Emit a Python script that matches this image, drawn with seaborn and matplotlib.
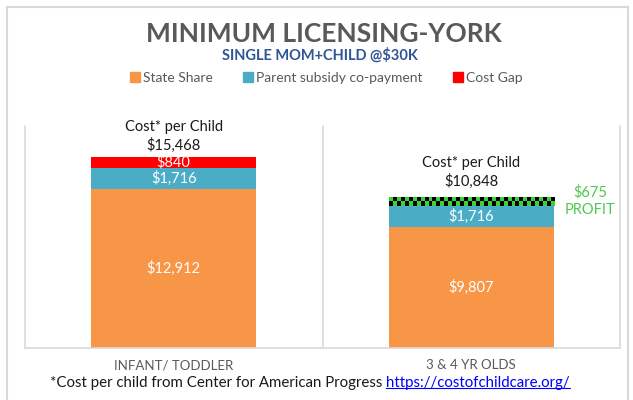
import numpy as np
import pandas as pd
import seaborn as sns
import matplotlib.pyplot as plt
from matplotlib.lines import Line2D
from matplotlib.patches import Rectangle

categories = ["INFANT/ TODDLER", "3 & 4 YR OLDS"]
state_share = [12912, 9807]
parent_copay = [1716, 1716]
cost_gap = [840, 0]
profit = [0, 675]
cost_per_child = [15468, 10848]

sns.set_style("white")
plt.rcParams['font.family'] = ['Lato', 'DejaVu Sans']

orange = '#F79646'
blue = '#4BACC6'
red = '#FF0000'
green = '#3BD13B'
grid = '#D9D9D9'

df = pd.DataFrame({"category": categories, "state": state_share,
                   "parent": parent_copay, "gap": cost_gap, "profit": profit})
df["c1"] = df["state"]
df["c2"] = df["c1"] + df["parent"]
df["c3"] = df["c2"] + df["gap"]
df["c4"] = df["c3"] + df["profit"]

fig = plt.figure(figsize=(6.33, 4), dpi=100)
ax = fig.add_axes([25 / 633, 52 / 400, 595 / 633, 222 / 400])

# stacked bars: draw the tallest layer first, then cover it
for col, c in [("c4", green), ("c3", red), ("c2", blue), ("c1", orange)]:
    sns.barplot(data=df, x="category", y=col, color=c, width=0.555,
                saturation=1, linewidth=0, errorbar=None, ax=ax)

# checker pattern on the profit band
for i, p in enumerate(ax.containers[0]):
    if df["profit"][i] > 0:
        checker = (np.indices((2, 42)).sum(axis=0) % 2).astype(float)
        ax.imshow(checker, cmap=plt.matplotlib.colors.ListedColormap([green, 'black']),
                  extent=(p.get_x(), p.get_x() + p.get_width(), df["c3"][i], df["c4"][i]),
                  aspect='auto', interpolation='nearest', zorder=3)
        ax.annotate("$" + format(df["profit"][i], ","), xy=(p.get_x() + p.get_width(), df["c3"][i] + df["profit"][i] / 2),
                    xytext=(26, 7), textcoords='offset points', ha='center', va='center',
                    color='#4CC94C', fontsize=10.5)
        ax.annotate("PROFIT", xy=(p.get_x() + p.get_width(), df["c3"][i] + df["profit"][i] / 2),
                    xytext=(26, -6), textcoords='offset points', ha='center', va='center',
                    color='#4CC94C', fontsize=10.5)

# segment labels
for i in range(len(df)):
    segs = [(0, df["state"][i]), (df["c1"][i], df["parent"][i]), (df["c2"][i], df["gap"][i])]
    for bottom, v in segs:
        if v > 0:
            ax.text(i, bottom + v / 2, "$" + format(v, ","), ha='center', va='center',
                    color='white', fontsize=10.5, zorder=4)
    ax.annotate("Cost* per Child\n$" + format(cost_per_child[i], ","), xy=(i, df["c4"][i]),
                xytext=(0, [3, 6][i]), textcoords='offset points', ha='center', va='bottom',
                fontsize=10.5, color='#1a1a1a', linespacing=1.35)

ax.set_xlim(-0.5, 1.5)
ax.set_ylim(0, 18000)
for x in [-0.5, 0.5, 1.5]:
    ax.axvline(x, color=grid, lw=1.2, clip_on=False, zorder=0)
sns.despine(ax=ax, left=True, top=True, right=True)
ax.spines['bottom'].set_color(grid)
ax.spines['bottom'].set_linewidth(1.2)
ax.set_yticks([])
ax.set_xlabel("")
ax.set_ylabel("")
ax.tick_params(axis='x', length=0, pad=8, labelsize=9.5, labelcolor='#595959')

fig.text(0.511, 1 - 34 / 400, "MINIMUM LICENSING-YORK", ha='center', va='center',
         fontsize=19, fontweight='bold', color='#595959')
fig.text(0.506, 1 - 55 / 400, "SINGLE MOM+CHILD @$30K", ha='center', va='center',
         fontsize=10.5, fontweight='bold', color='#2F5597')

handles = [Line2D([], [], marker='s', ls='', color=c, markersize=7) for c in [orange, blue, red]]
fig.legend(handles, ["State Share", "Parent subsidy co-payment", "Cost Gap"], loc='center',
           bbox_to_anchor=(0.514, 1 - 78 / 400), ncol=3, frameon=False, fontsize=10,
           labelcolor='#595959', handletextpad=0.1, columnspacing=2.0, handlelength=1.0)

fig.add_artist(Rectangle((6.5 / 633, -0.05), (628 - 6.5) / 633, 1.05 - 7 / 400, fill=False,
                         ec=grid, lw=1.5, transform=fig.transFigure))

t1 = fig.text(50 / 633, 1 - 383 / 400, "*Cost per child from Center for American Progress ",
              ha='left', va='center', fontsize=10.8, color='#1a1a1a')
link = ax.annotate("https://costofchildcare.org/", xy=(1, 0), xycoords=t1, ha='left', va='bottom',
                   fontsize=10.8, color='#0000FF', annotation_clip=False)
fig.canvas.draw()
bb = link.get_window_extent().transformed(fig.transFigure.inverted())
fig.add_artist(Line2D([bb.x0, bb.x1], [bb.y0 + 2.5 / 400] * 2, color='#0000FF', lw=0.8,
                      transform=fig.transFigure))

plt.savefig("out.png", dpi=100)
